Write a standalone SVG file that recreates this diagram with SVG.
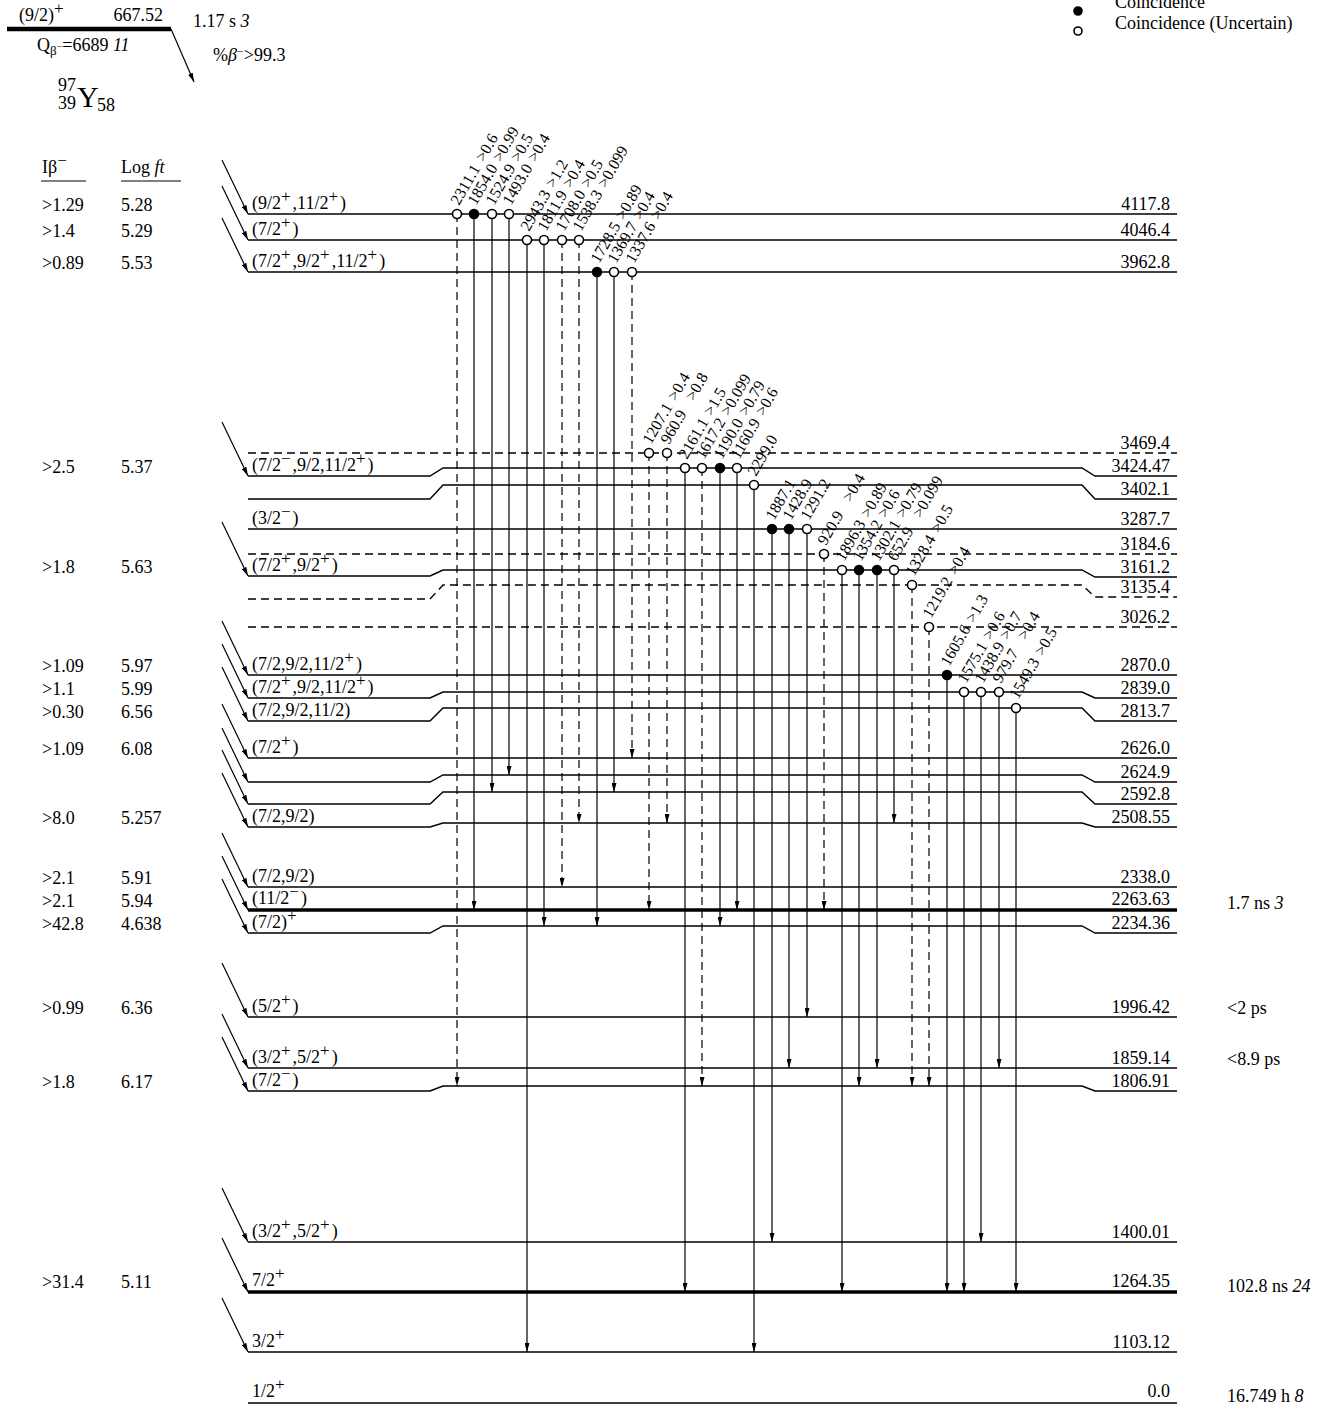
<svg xmlns="http://www.w3.org/2000/svg" width="1330" height="1412" viewBox="0 0 1330 1412">
<style>
text{font-family:"Liberation Serif","Times New Roman",serif;font-size:18px;fill:#000}
.e{text-anchor:end}
.i{font-style:italic}
.sp{font-size:17px;baseline-shift:7px;letter-spacing:2px}
.gt{font-size:16px}
.lg{font-size:18px}
.lv{stroke:#000;stroke-width:1.4;fill:none}
.d{stroke-dasharray:8,5}
.tk{stroke-width:3.6}
.gl{stroke:#000;stroke-width:1.2;fill:none}
.gd{stroke-dasharray:8,5}
.ba{stroke:#000;stroke-width:1.2}
.o{fill:#fff;stroke:#000;stroke-width:1.6}
.f{fill:#000;stroke:#000;stroke-width:1.6}
</style>
<defs>
<marker id="ah" viewBox="0 0 10 10" refX="10" refY="5" markerWidth="9" markerHeight="5" markerUnits="userSpaceOnUse" orient="auto" preserveAspectRatio="none"><path d="M0,0L10,5L0,10z" fill="#000"/></marker>
</defs>

<g id="header">
<line x1="7" y1="29" x2="171" y2="29" stroke="#000" stroke-width="4.5"/>
<text x="19" y="21">(9/2)<tspan class="sp">+</tspan></text>
<text class="e" x="163" y="21">667.52</text>
<text x="193" y="27">1.17 s <tspan class="i">3</tspan></text>
<text x="37" y="51">Q<tspan font-size="13" dy="4">β</tspan><tspan font-size="10" dy="-5">−</tspan><tspan dy="1">=6689 </tspan><tspan class="i">11</tspan></text>
<text x="213" y="61">%<tspan class="i">β</tspan><tspan font-size="12" dy="-6">−</tspan><tspan dy="6">&gt;99.3</tspan></text>
<text x="58" y="91">97</text>
<text x="58" y="109">39</text>
<text x="77" y="107" style="font-size:30px">Y</text>
<text x="97" y="111">58</text>
<text x="42" y="173">I<tspan>β</tspan><tspan class="sp">−</tspan></text>
<line x1="41" y1="181" x2="86" y2="181" stroke="#000" stroke-width="1"/>
<text x="121" y="173">Log <tspan class="i">ft</tspan></text>
<line x1="121" y1="181" x2="181" y2="181" stroke="#000" stroke-width="1"/>
</g>

<g id="legend">
<circle class="f" cx="1078" cy="11" r="4"/>
<text class="lg" x="1115" y="8">Coincidence</text>
<circle class="o" cx="1078" cy="31" r="4"/>
<text class="lg" x="1115" y="29">Coincidence (Uncertain)</text>
</g>

<g id="lv-4117.8"><path class="lv" d="M248,214H1177"/><text x="252" y="209">(9/2<tspan class="sp">+</tspan>,11/2<tspan class="sp">+</tspan>)</text><text class="e" x="1170" y="210">4117.8</text><text x="42" y="211">&gt;1.29</text><text x="121" y="211">5.28</text></g>
<g id="lv-4046.4"><path class="lv" d="M248,240H1177"/><text x="252" y="235">(7/2<tspan class="sp">+</tspan>)</text><text class="e" x="1170" y="236">4046.4</text><text x="42" y="237">&gt;1.4</text><text x="121" y="237">5.29</text></g>
<g id="lv-3962.8"><path class="lv" d="M248,272H1177"/><text x="252" y="267">(7/2<tspan class="sp">+</tspan>,9/2<tspan class="sp">+</tspan>,11/2<tspan class="sp">+</tspan>)</text><text class="e" x="1170" y="268">3962.8</text><text x="42" y="269">&gt;0.89</text><text x="121" y="269">5.53</text></g>
<g id="lv-3469.4"><path class="lv d" d="M248,453H1177"/><text class="e" x="1170" y="449">3469.4</text></g>
<g id="lv-3424.47"><path class="lv" d="M248,476H430L443,468H1082L1095,476H1177"/><text x="252" y="471">(7/2<tspan class="sp">−</tspan>,9/2,11/2<tspan class="sp">+</tspan>)</text><text class="e" x="1170" y="472">3424.47</text><text x="42" y="473">&gt;2.5</text><text x="121" y="473">5.37</text></g>
<g id="lv-3402.1"><path class="lv" d="M248,499H430L443,485H1082L1095,499H1177"/><text class="e" x="1170" y="495">3402.1</text></g>
<g id="lv-3287.7"><path class="lv" d="M248,529H1177"/><text x="252" y="524">(3/2<tspan class="sp">−</tspan>)</text><text class="e" x="1170" y="525">3287.7</text></g>
<g id="lv-3184.6"><path class="lv d" d="M248,554H1177"/><text class="e" x="1170" y="550">3184.6</text></g>
<g id="lv-3161.2"><path class="lv" d="M248,576H430L443,570H1082L1095,577H1177"/><text x="252" y="571">(7/2<tspan class="sp">+</tspan>,9/2<tspan class="sp">+</tspan>)</text><text class="e" x="1170" y="573">3161.2</text><text x="42" y="573">&gt;1.8</text><text x="121" y="573">5.63</text></g>
<g id="lv-3135.4"><path class="lv d" d="M248,599H430L443,585H1082L1095,597H1177"/><text class="e" x="1170" y="593">3135.4</text></g>
<g id="lv-3026.2"><path class="lv d" d="M248,627H1177"/><text class="e" x="1170" y="623">3026.2</text></g>
<g id="lv-2870.0"><path class="lv" d="M248,675H1177"/><text x="252" y="670">(7/2,9/2,11/2<tspan class="sp">+</tspan>)</text><text class="e" x="1170" y="671">2870.0</text><text x="42" y="672">&gt;1.09</text><text x="121" y="672">5.97</text></g>
<g id="lv-2839.0"><path class="lv" d="M248,698H430L443,692H1082L1095,698H1177"/><text x="252" y="693">(7/2<tspan class="sp">+</tspan>,9/2,11/2<tspan class="sp">+</tspan>)</text><text class="e" x="1170" y="694">2839.0</text><text x="42" y="695">&gt;1.1</text><text x="121" y="695">5.99</text></g>
<g id="lv-2813.7"><path class="lv" d="M248,721H430L443,708H1082L1095,721H1177"/><text x="252" y="716">(7/2,9/2,11/2)</text><text class="e" x="1170" y="717">2813.7</text><text x="42" y="718">&gt;0.30</text><text x="121" y="718">6.56</text></g>
<g id="lv-2626.0"><path class="lv" d="M248,758H1177"/><text x="252" y="753">(7/2<tspan class="sp">+</tspan>)</text><text class="e" x="1170" y="754">2626.0</text><text x="42" y="755">&gt;1.09</text><text x="121" y="755">6.08</text></g>
<g id="lv-2624.9"><path class="lv" d="M248,782H430L443,775H1082L1095,782H1177"/><text class="e" x="1170" y="778">2624.9</text></g>
<g id="lv-2592.8"><path class="lv" d="M248,804H430L443,792H1082L1095,804H1177"/><text class="e" x="1170" y="800">2592.8</text></g>
<g id="lv-2508.55"><path class="lv" d="M248,827H430L443,823H1082L1095,827H1177"/><text x="252" y="822">(7/2,9/2)</text><text class="e" x="1170" y="823">2508.55</text><text x="42" y="824">&gt;8.0</text><text x="121" y="824">5.257</text></g>
<g id="lv-2338.0"><path class="lv" d="M248,887H1177"/><text x="252" y="882">(7/2,9/2)</text><text class="e" x="1170" y="883">2338.0</text><text x="42" y="884">&gt;2.1</text><text x="121" y="884">5.91</text></g>
<g id="lv-2263.63"><path class="lv tk" d="M248,910H1177"/><text x="252" y="904">(11/2<tspan class="sp">−</tspan>)</text><text class="e" x="1170" y="905">2263.63</text><text x="42" y="907">&gt;2.1</text><text x="121" y="907">5.94</text><text x="1227" y="909">1.7 ns <tspan class="i">3</tspan></text></g>
<g id="lv-2234.36"><path class="lv" d="M248,933H430L443,926H1082L1095,933H1177"/><text x="252" y="928">(7/2)<tspan class="sp">+</tspan></text><text class="e" x="1170" y="929">2234.36</text><text x="42" y="930">&gt;42.8</text><text x="121" y="930">4.638</text></g>
<g id="lv-1996.42"><path class="lv" d="M248,1017H1177"/><text x="252" y="1012">(5/2<tspan class="sp">+</tspan>)</text><text class="e" x="1170" y="1013">1996.42</text><text x="42" y="1014">&gt;0.99</text><text x="121" y="1014">6.36</text><text x="1227" y="1014">&lt;2 ps</text></g>
<g id="lv-1859.14"><path class="lv" d="M248,1068H1177"/><text x="252" y="1063">(3/2<tspan class="sp">+</tspan>,5/2<tspan class="sp">+</tspan>)</text><text class="e" x="1170" y="1064">1859.14</text><text x="1227" y="1065">&lt;8.9 ps</text></g>
<g id="lv-1806.91"><path class="lv" d="M248,1091H430L443,1086H1082L1095,1091H1177"/><text x="252" y="1086">(7/2<tspan class="sp">−</tspan>)</text><text class="e" x="1170" y="1087">1806.91</text><text x="42" y="1088">&gt;1.8</text><text x="121" y="1088">6.17</text></g>
<g id="lv-1400.01"><path class="lv" d="M248,1242H1177"/><text x="252" y="1237">(3/2<tspan class="sp">+</tspan>,5/2<tspan class="sp">+</tspan>)</text><text class="e" x="1170" y="1238">1400.01</text></g>
<g id="lv-1264.35"><path class="lv tk" d="M248,1292H1177"/><text x="252" y="1286">7/2<tspan class="sp">+</tspan></text><text class="e" x="1170" y="1287">1264.35</text><text x="42" y="1288">&gt;31.4</text><text x="121" y="1288">5.11</text><text x="1227" y="1292">102.8 ns <tspan class="i">24</tspan></text></g>
<g id="lv-1103.12"><path class="lv" d="M248,1352H1177"/><text x="252" y="1347">3/2<tspan class="sp">+</tspan></text><text class="e" x="1170" y="1348">1103.12</text></g>
<g id="lv-0.0"><path class="lv" stroke-width="4" d="M248,1403H1177"/><text x="252" y="1397">1/2<tspan class="sp">+</tspan></text><text class="e" x="1170" y="1397">0.0</text><text x="1227" y="1402">16.749 h <tspan class="i">8</tspan></text></g>

<g id="connectors">
<g id="beta">
<line class="ba" x1="171" y1="29" x2="194" y2="82" marker-end="url(#ah)"/>
<line class="ba" x1="222" y1="160" x2="248" y2="214" marker-end="url(#ah)"/>
<line class="ba" x1="222" y1="186" x2="248" y2="240" marker-end="url(#ah)"/>
<line class="ba" x1="222" y1="218" x2="248" y2="272" marker-end="url(#ah)"/>
<line class="ba" x1="222" y1="422" x2="248" y2="476" marker-end="url(#ah)"/>
<line class="ba" x1="222" y1="522" x2="248" y2="576" marker-end="url(#ah)"/>
<line class="ba" x1="222" y1="621" x2="248" y2="675" marker-end="url(#ah)"/>
<line class="ba" x1="222" y1="644" x2="248" y2="698" marker-end="url(#ah)"/>
<line class="ba" x1="222" y1="667" x2="248" y2="721" marker-end="url(#ah)"/>
<line class="ba" x1="222" y1="704" x2="248" y2="758" marker-end="url(#ah)"/>
<line class="ba" x1="222" y1="728" x2="248" y2="782" marker-end="url(#ah)"/>
<line class="ba" x1="222" y1="750" x2="248" y2="804" marker-end="url(#ah)"/>
<line class="ba" x1="222" y1="773" x2="248" y2="827" marker-end="url(#ah)"/>
<line class="ba" x1="222" y1="833" x2="248" y2="887" marker-end="url(#ah)"/>
<line class="ba" x1="222" y1="856" x2="248" y2="910" marker-end="url(#ah)"/>
<line class="ba" x1="222" y1="879" x2="248" y2="933" marker-end="url(#ah)"/>
<line class="ba" x1="222" y1="963" x2="248" y2="1017" marker-end="url(#ah)"/>
<line class="ba" x1="222" y1="1014" x2="248" y2="1068" marker-end="url(#ah)"/>
<line class="ba" x1="222" y1="1037" x2="248" y2="1091" marker-end="url(#ah)"/>
<line class="ba" x1="222" y1="1188" x2="248" y2="1242" marker-end="url(#ah)"/>
<line class="ba" x1="222" y1="1238" x2="248" y2="1292" marker-end="url(#ah)"/>
<line class="ba" x1="222" y1="1298" x2="248" y2="1352" marker-end="url(#ah)"/>
</g>
<g id="gammas">
<line class="gl gd" x1="457" y1="214" x2="457" y2="1086" marker-end="url(#ah)"/>
<line class="gl" x1="474" y1="214" x2="474" y2="910" marker-end="url(#ah)"/>
<line class="gl" x1="492" y1="214" x2="492" y2="792" marker-end="url(#ah)"/>
<line class="gl" x1="509" y1="214" x2="509" y2="775" marker-end="url(#ah)"/>
<line class="gl" x1="527" y1="240" x2="527" y2="1352" marker-end="url(#ah)"/>
<line class="gl" x1="544" y1="240" x2="544" y2="926" marker-end="url(#ah)"/>
<line class="gl gd" x1="562" y1="240" x2="562" y2="887" marker-end="url(#ah)"/>
<line class="gl gd" x1="579" y1="240" x2="579" y2="823" marker-end="url(#ah)"/>
<line class="gl" x1="597" y1="272" x2="597" y2="926" marker-end="url(#ah)"/>
<line class="gl" x1="614" y1="272" x2="614" y2="792" marker-end="url(#ah)"/>
<line class="gl gd" x1="632" y1="272" x2="632" y2="758" marker-end="url(#ah)"/>
<line class="gl gd" x1="649" y1="453" x2="649" y2="910" marker-end="url(#ah)"/>
<line class="gl gd" x1="667" y1="453" x2="667" y2="823" marker-end="url(#ah)"/>
<line class="gl" x1="685" y1="468" x2="685" y2="1292" marker-end="url(#ah)"/>
<line class="gl gd" x1="702" y1="468" x2="702" y2="1086" marker-end="url(#ah)"/>
<line class="gl" x1="720" y1="468" x2="720" y2="926" marker-end="url(#ah)"/>
<line class="gl" x1="737" y1="468" x2="737" y2="910" marker-end="url(#ah)"/>
<line class="gl" x1="754" y1="485" x2="754" y2="1352" marker-end="url(#ah)"/>
<line class="gl" x1="772" y1="529" x2="772" y2="1242" marker-end="url(#ah)"/>
<line class="gl" x1="789" y1="529" x2="789" y2="1068" marker-end="url(#ah)"/>
<line class="gl" x1="807" y1="529" x2="807" y2="1017" marker-end="url(#ah)"/>
<line class="gl gd" x1="824" y1="554" x2="824" y2="910" marker-end="url(#ah)"/>
<line class="gl" x1="842" y1="570" x2="842" y2="1292" marker-end="url(#ah)"/>
<line class="gl" x1="859" y1="570" x2="859" y2="1086" marker-end="url(#ah)"/>
<line class="gl" x1="877" y1="570" x2="877" y2="1068" marker-end="url(#ah)"/>
<line class="gl" x1="894" y1="570" x2="894" y2="823" marker-end="url(#ah)"/>
<line class="gl gd" x1="912" y1="585" x2="912" y2="1086" marker-end="url(#ah)"/>
<line class="gl gd" x1="929" y1="627" x2="929" y2="1086" marker-end="url(#ah)"/>
<line class="gl" x1="947" y1="675" x2="947" y2="1292" marker-end="url(#ah)"/>
<line class="gl" x1="964" y1="692" x2="964" y2="1292" marker-end="url(#ah)"/>
<line class="gl" x1="981" y1="692" x2="981" y2="1242" marker-end="url(#ah)"/>
<line class="gl" x1="999" y1="692" x2="999" y2="1068" marker-end="url(#ah)"/>
<line class="gl" x1="1016" y1="708" x2="1016" y2="1292" marker-end="url(#ah)"/>

<circle class="o" cx="457" cy="214" r="4.5"/>
<circle class="f" cx="474" cy="214" r="4.5"/>
<circle class="o" cx="492" cy="214" r="4.5"/>
<circle class="o" cx="509" cy="214" r="4.5"/>
<circle class="o" cx="527" cy="240" r="4.5"/>
<circle class="o" cx="544" cy="240" r="4.5"/>
<circle class="o" cx="562" cy="240" r="4.5"/>
<circle class="o" cx="579" cy="240" r="4.5"/>
<circle class="f" cx="597" cy="272" r="4.5"/>
<circle class="o" cx="614" cy="272" r="4.5"/>
<circle class="o" cx="632" cy="272" r="4.5"/>
<circle class="o" cx="649" cy="453" r="4.5"/>
<circle class="o" cx="667" cy="453" r="4.5"/>
<circle class="o" cx="685" cy="468" r="4.5"/>
<circle class="o" cx="702" cy="468" r="4.5"/>
<circle class="f" cx="720" cy="468" r="4.5"/>
<circle class="o" cx="737" cy="468" r="4.5"/>
<circle class="o" cx="754" cy="485" r="4.5"/>
<circle class="f" cx="772" cy="529" r="4.5"/>
<circle class="f" cx="789" cy="529" r="4.5"/>
<circle class="o" cx="807" cy="529" r="4.5"/>
<circle class="o" cx="824" cy="554" r="4.5"/>
<circle class="o" cx="842" cy="570" r="4.5"/>
<circle class="f" cx="859" cy="570" r="4.5"/>
<circle class="f" cx="877" cy="570" r="4.5"/>
<circle class="o" cx="894" cy="570" r="4.5"/>
<circle class="o" cx="912" cy="585" r="4.5"/>
<circle class="o" cx="929" cy="627" r="4.5"/>
<circle class="f" cx="947" cy="675" r="4.5"/>
<circle class="o" cx="964" cy="692" r="4.5"/>
<circle class="o" cx="981" cy="692" r="4.5"/>
<circle class="o" cx="999" cy="692" r="4.5"/>
<circle class="o" cx="1016" cy="708" r="4.5"/>

<g class="gt">
<text class="gt" transform="translate(459,206) rotate(-60)">2311.1<tspan x="50">&gt;0.6</tspan></text>
<text class="gt" transform="translate(476,206) rotate(-60)">1854.0<tspan x="50">&gt;0.99</tspan></text>
<text class="gt" transform="translate(494,206) rotate(-60)">1524.9<tspan x="50">&gt;0.5</tspan></text>
<text class="gt" transform="translate(511,206) rotate(-60)">1493.0<tspan x="50">&gt;0.4</tspan></text>
<text class="gt" transform="translate(529,232) rotate(-60)">2943.3<tspan x="50">&gt;1.2</tspan></text>
<text class="gt" transform="translate(546,232) rotate(-60)">1811.9<tspan x="50">&gt;0.4</tspan></text>
<text class="gt" transform="translate(564,232) rotate(-60)">1708.0<tspan x="50">&gt;0.5</tspan></text>
<text class="gt" transform="translate(581,232) rotate(-60)">1538.3<tspan x="50">&gt;0.099</tspan></text>
<text class="gt" transform="translate(599,264) rotate(-60)">1728.5<tspan x="50">&gt;0.89</tspan></text>
<text class="gt" transform="translate(616,264) rotate(-60)">1369.7<tspan x="50">&gt;0.4</tspan></text>
<text class="gt" transform="translate(634,264) rotate(-60)">1337.6<tspan x="50">&gt;0.4</tspan></text>
<text class="gt" transform="translate(651,445) rotate(-60)">1207.1<tspan x="50">&gt;0.4</tspan></text>
<text class="gt" transform="translate(669,445) rotate(-60)">960.9<tspan x="50">&gt;0.8</tspan></text>
<text class="gt" transform="translate(687,460) rotate(-60)">2161.1<tspan x="50">&gt;1.5</tspan></text>
<text class="gt" transform="translate(704,460) rotate(-60)">1617.2<tspan x="50">&gt;0.099</tspan></text>
<text class="gt" transform="translate(722,460) rotate(-60)">1190.0<tspan x="50">&gt;0.79</tspan></text>
<text class="gt" transform="translate(739,460) rotate(-60)">1160.9<tspan x="50">&gt;0.6</tspan></text>
<text class="gt" transform="translate(756,477) rotate(-60)">2299.0</text>
<text class="gt" transform="translate(774,521) rotate(-60)">1887.1</text>
<text class="gt" transform="translate(791,521) rotate(-60)">1428.9</text>
<text class="gt" transform="translate(809,521) rotate(-60)">1291.2</text>
<text class="gt" transform="translate(826,546) rotate(-60)">920.9<tspan x="50">&gt;0.4</tspan></text>
<text class="gt" transform="translate(844,562) rotate(-60)">1896.3<tspan x="50">&gt;0.89</tspan></text>
<text class="gt" transform="translate(861,562) rotate(-60)">1354.2<tspan x="50">&gt;0.6</tspan></text>
<text class="gt" transform="translate(879,562) rotate(-60)">1302.1<tspan x="50">&gt;0.79</tspan></text>
<text class="gt" transform="translate(896,562) rotate(-60)">652.9<tspan x="50">&gt;0.099</tspan></text>
<text class="gt" transform="translate(914,577) rotate(-60)">1328.4<tspan x="50">&gt;0.5</tspan></text>
<text class="gt" transform="translate(931,619) rotate(-60)">1219.2<tspan x="50">&gt;0.4</tspan></text>
<text class="gt" transform="translate(949,667) rotate(-60)">1605.6<tspan x="50">&gt;1.3</tspan></text>
<text class="gt" transform="translate(966,684) rotate(-60)">1575.1<tspan x="50">&gt;0.6</tspan></text>
<text class="gt" transform="translate(983,684) rotate(-60)">1438.9<tspan x="50">&gt;0.7</tspan></text>
<text class="gt" transform="translate(1001,684) rotate(-60)">979.7<tspan x="50">&gt;0.4</tspan></text>
<text class="gt" transform="translate(1018,700) rotate(-60)">1549.3<tspan x="50">&gt;0.5</tspan></text>
</g>
</g>
</g>
</svg>
